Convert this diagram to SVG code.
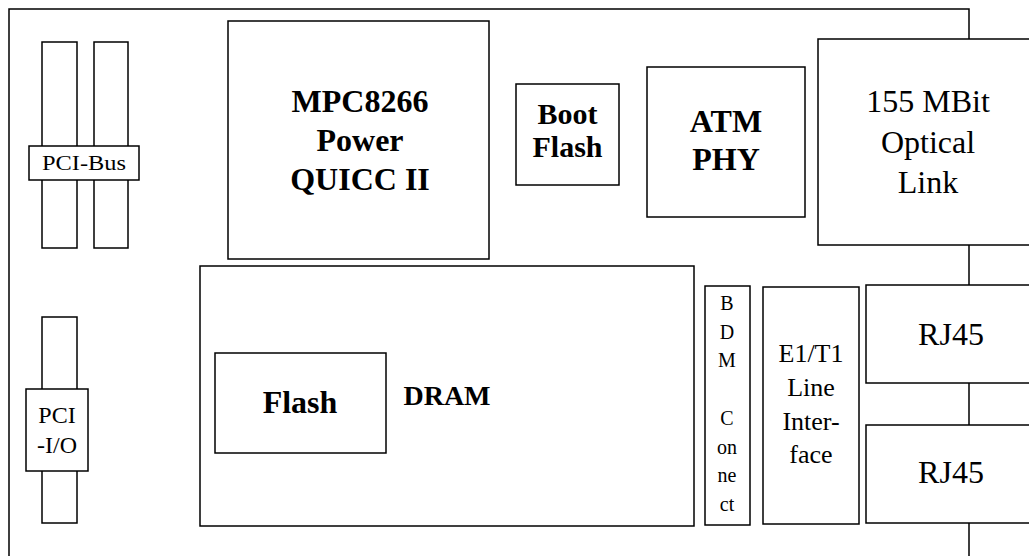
<svg xmlns="http://www.w3.org/2000/svg" width="1029" height="556" viewBox="0 0 1029 556">
<style>
.b{fill:#fff;stroke:#000;stroke-width:1.5}
.t{font-family:"Liberation Serif","Times New Roman",serif;fill:#000;text-anchor:middle}
.bold{font-weight:bold}
</style>
<rect x="0" y="0" width="1029" height="556" fill="#fff"/>
<g id="board"><path d="M9,560 V9 H969 V560" fill="none" stroke="#000" stroke-width="1.5"/></g>
<g id="connectors"></g>
<g id="pci-bus">
<rect class="b" x="42" y="42" width="35" height="206"/>
<rect class="b" x="94" y="42" width="34" height="206"/>
<rect class="b" x="29" y="146" width="110" height="34"/>
<text class="t" x="84" y="170" font-size="21" textLength="84" lengthAdjust="spacingAndGlyphs">PCI-Bus</text>
</g>
<g id="pci-io">
<rect class="b" x="42" y="317" width="35" height="206"/>
<rect class="b" x="26" y="389" width="62" height="82"/>
<text class="t" x="57" y="423" font-size="24">PCI</text>
<text class="t" x="57" y="453" font-size="24">-I/O</text>
</g>
<g id="mpc">
<rect class="b" x="228" y="21" width="261" height="238"/>
<text class="t bold" x="360" y="112" font-size="32">MPC8266</text>
<text class="t bold" x="360" y="151" font-size="32">Power</text>
<text class="t bold" x="360" y="190" font-size="32">QUICC II</text>
</g>
<g id="bootflash">
<rect class="b" x="516" y="84" width="103" height="101"/>
<text class="t bold" x="567.5" y="124" font-size="30">Boot</text>
<text class="t bold" x="567.5" y="157" font-size="30">Flash</text>
</g>
<g id="atmphy">
<rect class="b" x="647" y="67" width="158" height="150"/>
<text class="t bold" x="726" y="132" font-size="32">ATM</text>
<text class="t bold" x="726" y="170" font-size="32">PHY</text>
</g>
<g id="optical">
<rect class="b" x="818" y="39" width="230" height="206"/>
<text class="t" x="928" y="112" font-size="32">155 MBit</text>
<text class="t" x="928" y="153" font-size="32">Optical</text>
<text class="t" x="928" y="193" font-size="32">Link</text>
</g>
<g id="dram">
<rect class="b" x="200" y="266" width="494" height="260"/>
<text class="t bold" x="447" y="405" font-size="28">DRAM</text>
</g>
<g id="flash">
<rect class="b" x="215" y="353" width="171" height="100"/>
<text class="t bold" x="300" y="413" font-size="32">Flash</text>
</g>
<g id="bdm">
<rect class="b" x="705" y="286" width="45" height="239"/>
<text class="t" x="727" y="310" font-size="20">B</text>
<text class="t" x="727" y="339" font-size="20">D</text>
<text class="t" x="727" y="367" font-size="20">M</text>
<text class="t" x="727" y="425" font-size="20">C</text>
<text class="t" x="727" y="454" font-size="20">on</text>
<text class="t" x="727" y="482" font-size="20">ne</text>
<text class="t" x="727" y="511" font-size="20">ct</text>
</g>
<g id="e1t1">
<rect class="b" x="763" y="287" width="96" height="237"/>
<text class="t" x="811" y="362" font-size="26">E1/T1</text>
<text class="t" x="811" y="396" font-size="26">Line</text>
<text class="t" x="811" y="430" font-size="26">Inter-</text>
<text class="t" x="811" y="463" font-size="26">face</text>
</g>
<g id="rj45-1">
<rect class="b" x="866" y="285" width="180" height="98"/>
<text class="t" x="951" y="345" font-size="32">RJ45</text>
</g>
<g id="rj45-2">
<rect class="b" x="866" y="425" width="180" height="98"/>
<text class="t" x="951" y="483" font-size="32">RJ45</text>
</g>
</svg>
